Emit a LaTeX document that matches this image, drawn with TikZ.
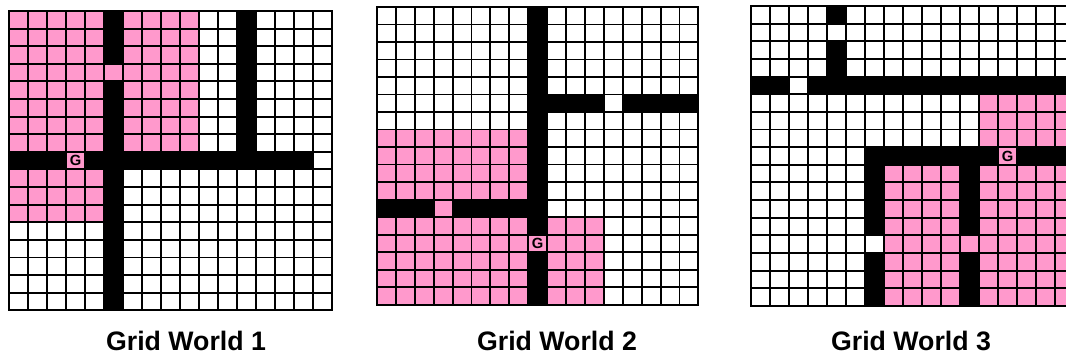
\documentclass[tikz,border=0pt]{standalone}
\usepackage{fontspec}
\setmainfont{Liberation Sans}
\definecolor{Croompink}{HTML}{FF99CC}

\tikzset{
  room/.style={fill=Croompink},
  wall/.style={fill=black},
  gridline/.style={line width=1.35pt,black,line cap=rect},
  goal/.style={font=\bfseries\fontsize{10.5}{10.5}\selectfont,inner sep=0pt},
  caption/.style={font=\bfseries\fontsize{19}{22}\selectfont,inner sep=0pt}
}

\begin{document}
\begin{tikzpicture}[x=0.025cm,y=-0.025cm]
	\useasboundingbox (0,0) rectangle (1066,356);
	% grid world 1
	\begin{scope}[shift={(9,11)},x=0.475cm,y=-0.44cm]
		\foreach \xa/\ya/\xb/\yb in {0/0/5/8,5/3/6/4,6/0/10/8,0/9/5/12,3/8/4/9}
			\fill[room] (\xa,\ya) rectangle (\xb,\yb);
		\foreach \xa/\ya/\xb/\yb in {5/0/6/3,5/4/6/17,0/8/3/9,4/8/16/9,12/0/13/8}
			\fill[wall] (\xa,\ya) rectangle (\xb,\yb);
		\foreach \i in {0,...,17} {
			\draw[gridline] (\i,0) -- (\i,17);
			\draw[gridline] (0,\i) -- (17,\i);
		}
		\node[goal] (goal1) at (3.5,8.5) {G};
	\end{scope}
	% grid world 2
	\begin{scope}[shift={(377,7)},x=0.4725cm,y=-0.4375cm]
		\foreach \xa/\ya/\xb/\yb in {0/7/8/11,3/11/4/12,0/12/8/17,8/13/9/14,9/12/12/17}
			\fill[room] (\xa,\ya) rectangle (\xb,\yb);
		\foreach \xa/\ya/\xb/\yb in {8/0/9/13,8/14/9/17,0/11/3/12,4/11/8/12,9/5/12/6,13/5/17/6}
			\fill[wall] (\xa,\ya) rectangle (\xb,\yb);
		\foreach \i in {0,...,17} {
			\draw[gridline] (\i,0) -- (\i,17);
			\draw[gridline] (0,\i) -- (17,\i);
		}
		\node[goal] (goal2) at (8.5,13.5) {G};
	\end{scope}
	% grid world 3 (cut off at the right edge)
	\begin{scope}[shift={(751,6)},x=0.475cm,y=-0.441cm]
		\foreach \xa/\ya/\xb/\yb in {12/5/17/8,13/8/14/9,7/9/11/17,11/13/12/14,12/9/17/17}
			\fill[room] (\xa,\ya) rectangle (\xb,\yb);
		\foreach \xa/\ya/\xb/\yb in {4/0/5/1,4/2/5/4,0/4/2/5,3/4/17/5,6/8/13/9,14/8/17/9,6/9/7/13,6/14/7/17,11/9/12/13,11/14/12/17}
			\fill[wall] (\xa,\ya) rectangle (\xb,\yb);
		\foreach \i in {0,...,17} {
			\draw[gridline] (\i,0) -- (\i,17);
			\draw[gridline] (0,\i) -- (17,\i);
		}
		\node[goal] (goal3) at (13.5,8.5) {G};
	\end{scope}
	% captions
	\node[caption] (title1) at (186,340.5) {Grid World 1};
	\node[caption] (title2) at (557,340.5) {Grid World 2};
	\node[caption] (title3) at (911,340.5) {Grid World 3};
\end{tikzpicture}
\end{document}
